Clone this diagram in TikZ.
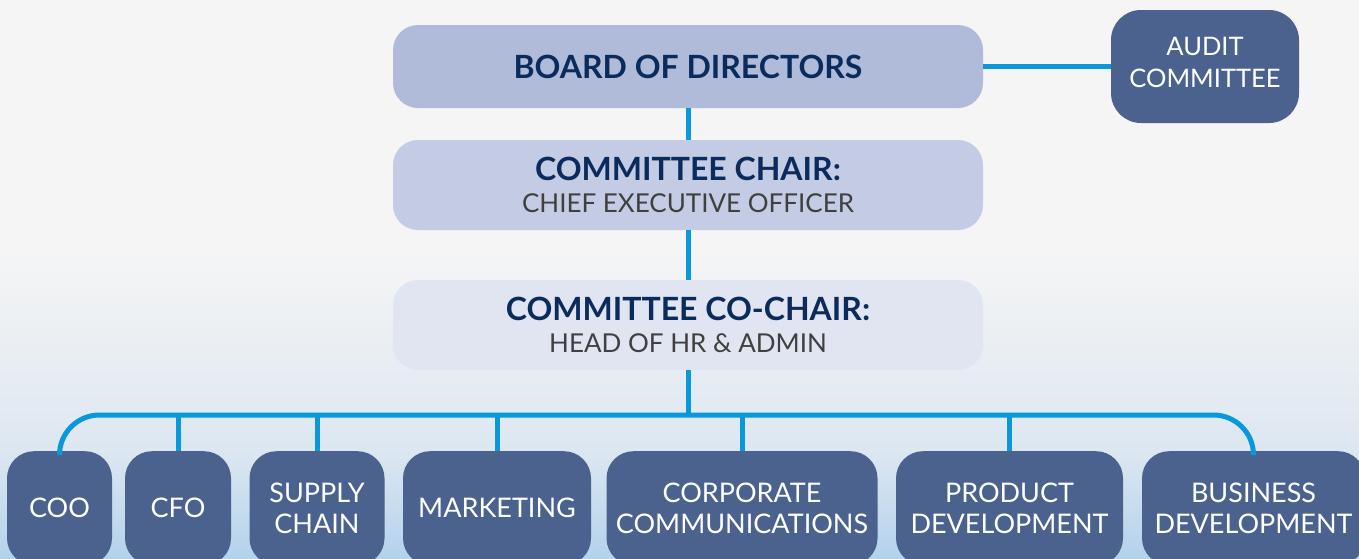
\documentclass[tikz,border=0pt]{standalone}
\usepackage{fontspec}
\setmainfont{Lato}
\definecolor{navy}{HTML}{0B2B5C}
\definecolor{greytext}{HTML}{404040}
\definecolor{slate}{HTML}{4A628D}
\definecolor{linkblue}{HTML}{0998DA}
\definecolor{boardfill}{HTML}{AFBBD9}
\definecolor{chairfill}{HTML}{C3CCE4}
\definecolor{cochairfill}{HTML}{E1E5F1}
\definecolor{bgtop}{HTML}{F5F5F5}
\definecolor{bgmid}{HTML}{DDE7F1}
\definecolor{bgbot}{HTML}{B3D2EB}
\begin{document}
\begin{tikzpicture}[x=1pt,y=-1pt,
  lightbox/.style={rounded corners=25pt, minimum width=590pt, minimum height=90pt, inner sep=0pt, align=center,
    font=\fontsize{26}{32}\selectfont, text=greytext},
  darkbox/.style={fill=slate, rounded corners=27pt, text=white, inner sep=0pt, align=center,
    minimum height=114pt, anchor=north, font=\fontsize{27}{31}\selectfont},
  link/.style={line width=5pt, draw=linkblue}]
\clip (0,0) rectangle (1359,558);
% backdrop
\fill[bgtop] (0,0) rectangle (1359,558);
\shade[top color=bgtop, bottom color=bgmid] (0,250) rectangle (1359,450);
\shade[top color=bgmid, bottom color=bgbot] (0,450) rectangle (1359,558);

% top of the chart
\node[lightbox, fill=boardfill, minimum height=83pt] (board) at (688,66.5)
  {{\fontsize{32}{38}\selectfont\bfseries\color{navy}BOARD OF DIRECTORS}};
\node[lightbox, fill=chairfill] (chair) at (688,185)
  {{\fontsize{32}{32}\selectfont\bfseries\color{navy}COMMITTEE CHAIR:}\\CHIEF EXECUTIVE OFFICER};
\node[lightbox, fill=cochairfill] (cochair) at (688,325)
  {{\fontsize{32}{32}\selectfont\bfseries\color{navy}COMMITTEE CO-CHAIR:}\\HEAD OF HR \& ADMIN};
\node[darkbox, anchor=center, rounded corners=30pt, minimum width=188pt, minimum height=113pt,
  text depth=8pt, font=\fontsize{25.5}{32}\selectfont] (audit) at (1205,66.5) {AUDIT\\COMMITTEE};

% departments
\node[darkbox, minimum width=105pt] (coo) at (59.5,451) {COO};
\node[darkbox, minimum width=106pt] (cfo) at (178,451) {CFO};
\node[darkbox, minimum width=135pt] (supply) at (317,451) {SUPPLY\\CHAIN};
\node[darkbox, minimum width=188pt] (mkt) at (497,451) {MARKETING};
\node[darkbox, minimum width=271pt] (corp) at (742,451) {CORPORATE\\COMMUNICATIONS};
\node[darkbox, minimum width=227pt] (prod) at (1009.5,451) {PRODUCT\\DEVELOPMENT};
\node[darkbox, minimum width=223pt] (busdev) at (1253.5,451) {BUSINESS\\DEVELOPMENT};

% connectors
\coordinate (bus) at (0,415);
\draw[link] (board) -- (audit);
\draw[link] (board) -- (chair);
\draw[link] (chair) -- (cochair);
\draw[link] (cochair) -- (cochair.south |- bus);
\draw[link, rounded corners=40pt] (coo.north) |- (bus -| busdev.north) -- (busdev.north);
\foreach \d in {cfo,supply,mkt,corp,prod}
  \draw[link] (\d.north) -- (\d.north |- bus);
\end{tikzpicture}
\end{document}
